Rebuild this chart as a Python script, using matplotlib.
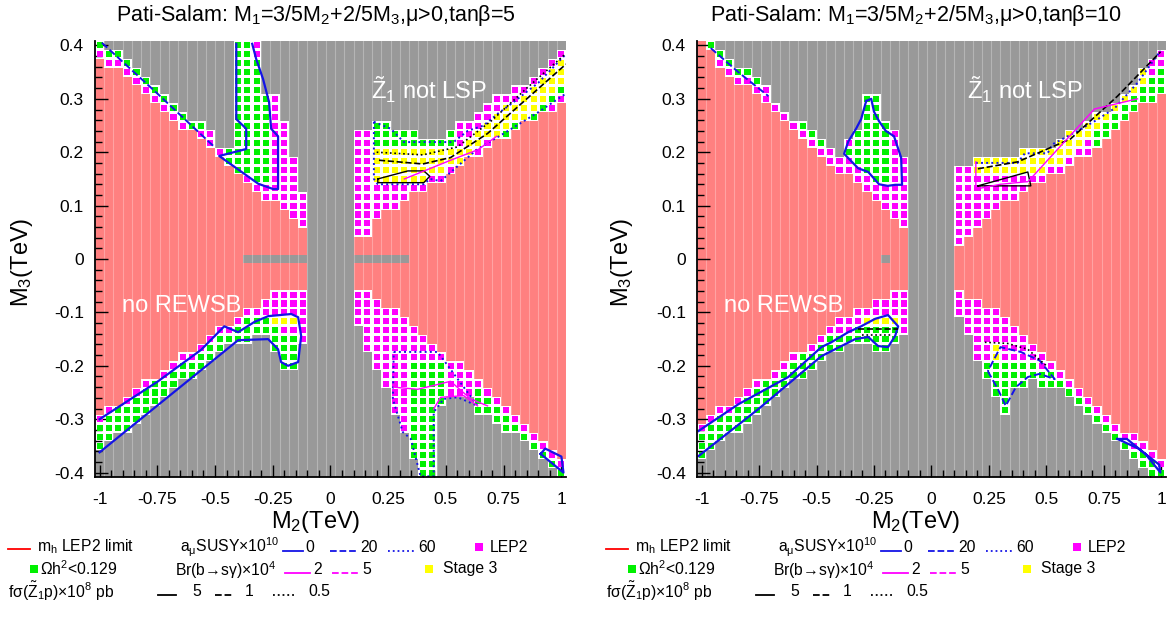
import numpy as np
import matplotlib
matplotlib.use("Agg")
import matplotlib.pyplot as plt
from matplotlib.path import Path
from matplotlib.patches import Rectangle
from matplotlib.collections import PatchCollection
from matplotlib.lines import Line2D
from matplotlib.ticker import FixedLocator, MultipleLocator

plt.rcParams['font.family'] = ['Liberation Sans', 'DejaVu Sans']
plt.rcParams['mathtext.fontset'] = 'custom'
plt.rcParams['mathtext.rm'] = 'Liberation Sans'
plt.rcParams['mathtext.it'] = 'Liberation Sans'
plt.rcParams['mathtext.sf'] = 'Liberation Sans'

# ---------------- scan grid (M2, M3 in TeV) ----------------
M2_GRID = np.round(np.arange(-1.0, 1.0001, 0.04), 4)
M3_GRID = np.round(np.linspace(-0.4, 0.4, 49), 5)

X_TICKS = [-1, -0.75, -0.5, -0.25, 0, 0.25, 0.5, 0.75, 1]
X_TICK_LABELS = ['-1', '-0.75', '-0.5', '-0.25', '0', '0.25', '0.5', '0.75', '1']
Y_TICKS = [-0.4, -0.3, -0.2, -0.1, 0, 0.1, 0.2, 0.3, 0.4]
Y_TICK_LABELS = ['-0.4', '-0.3', '-0.2', '-0.1', '0', '0.1', '0.2', '0.3', '0.4']

TITLES = ['Pati-Salam: M$_1$=3/5M$_2$+2/5M$_3$,\u03bc>0,tan\u03b2=5',
          'Pati-Salam: M$_1$=3/5M$_2$+2/5M$_3$,\u03bc>0,tan\u03b2=10']

# ---------------- tan(beta)=5 panel regions ----------------
L5_salmon = [
    [(-1.03, 0.392), (-0.1, 0.05), (-0.1, -0.054), (-0.2, -0.054), (-0.31, -0.086),
     (-0.44, -0.117), (-0.56, -0.155), (-1.03, -0.303)],
    [(0.1, 0.04), (0.18, 0.04), (0.18, 0.07), (0.39, 0.125), (0.52, 0.155), (0.66, 0.205),
     (1.03, 0.30), (1.03, -0.38), (0.81, -0.29), (0.665, -0.235), (0.51, -0.18),
     (0.335, -0.12), (0.2, -0.07), (0.1, -0.05)],
]
L5_allowed = [
    [(-1.03, 0.4236), (-0.52, 0.237), (-0.50, 0.215), (-0.42, 0.188), (-0.42, 0.0), (-1.03, 0.2)],
    [(-0.417, 0.412), (-0.322, 0.412), (-0.309, 0.365), (-0.287, 0.319), (-0.257, 0.300),
     (-0.22, 0.300), (-0.22, 0.253), (-0.18, 0.253), (-0.18, 0.187), (-0.14, 0.187),
     (-0.14, 0.127), (-0.10, 0.127), (-0.10, 0.03), (-0.5, 0.11), (-0.5, 0.2), (-0.417, 0.2)],
    [(-1.03, -0.373), (-0.42, -0.152), (-0.27, -0.148), (-0.25, -0.16), (-0.23, -0.205),
     (-0.14, -0.205), (-0.14, -0.16), (-0.10, -0.16), (-0.10, 0.0), (-1.03, -0.1)],
    [(0.10, 0.235), (0.18, 0.235), (0.18, 0.265), (0.24, 0.255), (0.30, 0.24), (0.39, 0.23),
     (0.48, 0.23), (0.53, 0.245), (0.61, 0.268), (0.69, 0.295), (0.87, 0.335), (1.03, 0.395),
     (1.03, 0.1), (0.1, 0.0)],
    [(0.10, -0.12), (0.14, -0.12), (0.14, -0.17), (0.18, -0.17), (0.18, -0.205), (0.22, -0.205),
     (0.22, -0.25), (0.26, -0.25), (0.26, -0.3), (0.30, -0.3), (0.30, -0.33), (0.34, -0.33),
     (0.34, -0.38), (0.38, -0.38), (0.38, -0.42), (0.46, -0.42), (0.46, -0.28), (0.50, -0.28),
     (0.50, -0.265), (0.62, -0.265), (0.62, -0.28), (0.70, -0.295), (1.03, -0.42),
     (1.03, -0.2), (0.1, 0.0)],
]
L5_green = [
    [(-1.03, 0.4236), (-0.52, 0.237), (-0.52, 0.2203), (-1.03, 0.407)],
    [(-0.421, 0.412), (-0.339, 0.412), (-0.322, 0.375), (-0.300, 0.337), (-0.292, 0.300),
     (-0.257, 0.300), (-0.257, 0.131), (-0.322, 0.141), (-0.482, 0.193), (-0.421, 0.206)],
    [(-1.03, -0.378), (-0.42, -0.157), (-0.27, -0.15), (-0.25, -0.165), (-0.23, -0.21),
     (-0.14, -0.21), (-0.14, -0.14), (-0.25, -0.13), (-0.31, -0.103), (-0.44, -0.134),
     (-0.56, -0.172), (-1.03, -0.315)],
    [(0.18, 0.27), (0.53, 0.27), (0.53, 0.205), (0.18, 0.205)],
    [(0.75, 0.22), (1.03, 0.31), (1.03, 0.36), (0.75, 0.27)],
    [(0.34, -0.195), (0.50, -0.195), (0.50, -0.27), (0.46, -0.27), (0.46, -0.42), (0.34, -0.42)],
    [(0.6, -0.225), (0.665, -0.252), (0.81, -0.307), (1.03, -0.397), (1.03, -0.45), (0.6, -0.3)],
]
L5_yellow = [
    [(-0.26, -0.108), (-0.14, -0.108), (-0.14, -0.127), (-0.26, -0.127)],
    [(0.18, 0.205), (0.53, 0.205), (0.62, 0.24), (0.75, 0.28), (0.87, 0.32), (1.03, 0.38),
     (1.03, 0.33), (0.87, 0.275), (0.75, 0.24), (0.62, 0.2), (0.5, 0.165), (0.4, 0.145),
     (0.18, 0.145)],
]
L5_zero_grey = (-0.38, 0.34)

# contour lines tan(beta)=5
L5_amu0_ul_m2 = [-0.408, -0.408, -0.365, -0.365, -0.482, -0.313, -0.248, -0.227, -0.227, -0.257, -0.266, -0.292, -0.322, -0.339]
L5_amu0_ul_m3 = [0.403, 0.262, 0.244, 0.206, 0.193, 0.141, 0.131, 0.131, 0.23, 0.244, 0.294, 0.337, 0.375, 0.403]
L5_amu20_ul_m2 = [-0.99, -0.75, -0.503]
L5_amu20_ul_m3 = [0.405, 0.31, 0.21]
L5_amu0_ll_m2 = [-1.0, -0.75, -0.56, -0.46, -0.4, -0.33, -0.27, -0.17, -0.14, -0.127, -0.14, -0.184,
                 -0.214, -0.227, -0.27, -0.4, -0.6, -0.8, -1.0]
L5_amu0_ll_m3 = [-0.30, -0.23, -0.17, -0.126, -0.137, -0.118, -0.107, -0.103, -0.109, -0.144, -0.193,
                 -0.2, -0.193, -0.169, -0.15, -0.152, -0.222, -0.292, -0.362]
L5_amu60_ur_m2 = [0.188, 0.188, 0.205, 0.404, 0.43, 0.477, 0.551, 0.637, 0.75, 0.9, 1.02]
L5_amu60_ur_m3 = [0.257, 0.15, 0.14, 0.14, 0.15, 0.146, 0.174, 0.206, 0.235, 0.275, 0.31]
L5_amu0_ur_m2 = [0.188, 0.261, 0.318, 0.533, 0.594, 0.663, 0.724, 0.793, 0.9, 1.02]
L5_amu0_ur_m3 = [0.257, 0.244, 0.219, 0.219, 0.24, 0.25, 0.272, 0.294, 0.33, 0.384]
L5_f1_m2 = [0.21, 0.4, 0.52, 0.68, 0.85, 1.02]
L5_f1_m3 = [0.185, 0.178, 0.19, 0.235, 0.3, 0.365]
L5_f05_m2 = [0.2, 0.4, 0.55, 0.7, 0.85, 1.02]
L5_f05_m3 = [0.2, 0.195, 0.21, 0.26, 0.32, 0.385]
L5_f5_m2 = [0.205, 0.335, 0.404, 0.43, 0.404, 0.205, 0.205]
L5_f5_m3 = [0.15, 0.165, 0.165, 0.155, 0.143, 0.143, 0.15]
L5_br2_ur_m2 = [0.32, 0.52, 0.64, 0.72]
L5_br2_ur_m3 = [0.15, 0.185, 0.205, 0.23]
L5_amu60_lr_m2 = [0.274, 0.464, 0.637, 0.551, 0.49, 0.447, 0.447, 0.39, 0.348, 0.313, 0.27, 0.274]
L5_amu60_lr_m3 = [-0.174, -0.174, -0.275, -0.259, -0.262, -0.287, -0.407, -0.407, -0.337, -0.324, -0.262, -0.174]
L5_br2_lr_m2 = [0.274, 0.378, 0.52, 0.607, 0.68]
L5_br2_lr_m3 = [-0.24, -0.244, -0.229, -0.262, -0.275]
L5_br2b_lr_m2 = [0.447, 0.477, 0.577, 0.637]
L5_br2b_lr_m3 = [-0.281, -0.259, -0.256, -0.275]
L5_amu0_lr_m2 = [0.91, 1.009, 1.0, 0.93, 0.91]
L5_amu0_lr_m3 = [-0.365, -0.4, -0.37, -0.355, -0.365]

# ---------------- tan(beta)=10 panel regions ----------------
R10_salmon = [
    [(-1.03, 0.43), (-0.98, 0.41), (-0.94, 0.37), (-0.1, 0.052), (-0.1, -0.058), (-0.15, -0.058),
     (-0.35, -0.1), (-0.6, -0.18), (-1.03, -0.318)],
    [(0.1, 0.03), (0.18, 0.04), (0.2, 0.056), (0.3, 0.1), (0.5, 0.148), (0.75, 0.218), (0.91, 0.29),
     (1.03, 0.31), (1.03, -0.385), (0.996, -0.375), (0.909, -0.343), (0.822, -0.313),
     (0.753, -0.281), (0.666, -0.249), (0.584, -0.215), (0.505, -0.184), (0.419, -0.153),
     (0.345, -0.122), (0.267, -0.09), (0.189, -0.075), (0.1, -0.06)],
]
R10_allowed = [
    [(-1.03, 0.4386), (-0.72, 0.3208), (-0.70, 0.296), (-0.6, 0.258), (-0.58, 0.27),
     (-0.46, 0.222), (-0.42, 0.2), (-0.42, 0.0), (-1.03, 0.2)],
    [(-0.284, 0.30), (-0.232, 0.30), (-0.206, 0.262), (-0.158, 0.244), (-0.145, 0.197),
     (-0.10, 0.19), (-0.10, 0.03), (-0.42, 0.1), (-0.42, 0.2), (-0.406, 0.19),
     (-0.341, 0.244), (-0.293, 0.253)],
    [(-1.03, -0.385), (-0.48, -0.19), (-0.33, -0.158), (-0.27, -0.158), (-0.245, -0.172),
     (-0.2, -0.172), (-0.14, -0.158), (-0.14, -0.135), (-0.10, -0.135), (-0.10, 0.0), (-1.03, -0.1)],
    [(0.1, 0.175), (0.18, 0.175), (0.18, 0.188), (0.375, 0.188), (0.405, 0.205), (0.505, 0.205),
     (0.53, 0.222), (0.636, 0.248), (0.71, 0.266), (0.8, 0.29), (0.9, 0.34), (1.03, 0.41),
     (1.03, 0.2), (0.1, 0.0)],
    [(0.10, -0.11), (0.14, -0.11), (0.14, -0.14), (0.18, -0.14), (0.18, -0.19), (0.22, -0.19),
     (0.22, -0.22), (0.26, -0.22), (0.26, -0.255), (0.30, -0.255), (0.30, -0.29), (0.34, -0.29),
     (0.34, -0.25), (0.38, -0.25), (0.38, -0.235), (0.42, -0.235), (0.42, -0.22), (0.46, -0.22),
     (0.46, -0.235), (0.50, -0.235), (0.585, -0.25), (0.67, -0.285), (0.75, -0.315),
     (0.82, -0.35), (0.91, -0.38), (1.03, -0.43), (1.03, -0.2), (0.1, 0.0)],
]
R10_green = [
    [(-1.03, 0.4386), (-0.72, 0.3208), (-0.72, 0.3038), (-1.03, 0.4216)],
    [(-0.58, 0.2685), (-0.46, 0.2229), (-0.46, 0.2059), (-0.58, 0.2515)],
    [(-0.284, 0.30), (-0.232, 0.30), (-0.206, 0.258), (-0.163, 0.234), (-0.163, 0.185),
     (-0.2, 0.14), (-0.24, 0.135), (-0.319, 0.169), (-0.384, 0.197), (-0.328, 0.242),
     (-0.293, 0.248)],
    [(-1.03, -0.39), (-0.48, -0.19), (-0.33, -0.158), (-0.27, -0.158), (-0.245, -0.172),
     (-0.2, -0.172), (-0.14, -0.158), (-0.14, -0.125), (-0.3, -0.125), (-0.475, -0.152),
     (-1.03, -0.335)],
    [(0.7, 0.2), (1.03, 0.3), (1.03, 0.37), (0.8, 0.275), (0.7, 0.245)],
    [(0.18, -0.195), (0.42, -0.195), (0.5, -0.215), (0.5, -0.3), (0.18, -0.3)],
    [(0.5, -0.2), (0.585, -0.232), (0.67, -0.266), (0.75, -0.298), (0.82, -0.33), (0.91, -0.36),
     (1.03, -0.4), (1.03, -0.45), (0.5, -0.26)],
]
R10_yellow = [
    [(-0.3, -0.108), (-0.14, -0.108), (-0.14, -0.127), (-0.3, -0.127)],
    [(0.18, 0.2), (0.4, 0.22), (0.5, 0.22), (0.65, 0.26), (0.8, 0.3), (0.95, 0.37), (0.95, 0.33),
     (0.8, 0.275), (0.65, 0.205), (0.5, 0.165), (0.4, 0.15), (0.18, 0.15)],
    [(0.26, -0.16), (0.30, -0.16), (0.30, -0.19), (0.26, -0.19)],
]
R10_zero_grey = (-0.22, -0.18)

R10_amu0_ul_m2 = [-0.284, -0.262, -0.25, -0.228, -0.199, -0.163, -0.132, -0.128, -0.158, -0.19, -0.228, -0.275, -0.319, -0.38, -0.362, -0.328, -0.306, -0.284]
R10_amu0_ul_m3 = [0.296, 0.3, 0.276, 0.258, 0.24, 0.23, 0.19, 0.139, 0.139, 0.137, 0.14, 0.163, 0.17, 0.197, 0.22, 0.244, 0.262, 0.296]
R10_amu20_ul_m2 = [-0.96, -0.84, -0.709]
R10_amu20_ul_m3 = [0.395, 0.35, 0.305]
R10_amu0_ll_m2 = [-1.013, -0.84, -0.623, -0.479, -0.436, -0.362, -0.306, -0.245, -0.189, -0.145, -0.158,
                  -0.189, -0.232, -0.275, -0.332, -0.479, -0.75, -1.013]
R10_amu0_ll_m3 = [-0.322, -0.272, -0.221, -0.165, -0.156, -0.137, -0.126, -0.112, -0.105, -0.126, -0.144,
                  -0.165, -0.163, -0.146, -0.15, -0.182, -0.28, -0.369]
R10_f1_ll_m2 = [-0.319, -0.145]
R10_f1_ll_m3 = [-0.131, -0.131]
R10_f05_ll_m2 = [-0.3, -0.17]
R10_f05_ll_m3 = [-0.142, -0.142]
R10_amu20_lr_m2 = [0.245, 0.289, 0.323, 0.367, 0.419, 0.47, 0.536, 0.47, 0.388, 0.3, 0.245]
R10_amu20_lr_m3 = [-0.21, -0.244, -0.275, -0.24, -0.221, -0.215, -0.225, -0.19, -0.174, -0.165, -0.21]
R10_f05_lr_m2 = [0.232, 0.33, 0.419, 0.5]
R10_f05_lr_m3 = [-0.156, -0.158, -0.169, -0.2]
R10_amu0_lr_m2 = [0.809, 0.85, 0.93, 0.996, 0.99, 0.9, 0.809]
R10_amu0_lr_m3 = [-0.337, -0.337, -0.365, -0.4, -0.385, -0.355, -0.337]
R10_amu60_ur_m2 = [0.193, 0.375, 0.406, 0.505, 0.527, 0.636, 0.709, 0.796, 0.896, 0.996]
R10_amu60_ur_m3 = [0.18, 0.18, 0.198, 0.198, 0.215, 0.24, 0.258, 0.282, 0.33, 0.39]
R10_f1_ur_m2 = [0.202, 0.375, 0.605, 0.809, 0.996]
R10_f1_ur_m3 = [0.169, 0.182, 0.225, 0.305, 0.388]
R10_f5_ur_m2 = [0.202, 0.419, 0.432, 0.202]
R10_f5_ur_m3 = [0.137, 0.163, 0.137, 0.137]
R10_br2_ur_m2 = [0.193, 0.193, 0.3, 0.42, 0.709, 0.896]
R10_br2_ur_m3 = [0.182, 0.131, 0.14, 0.145, 0.281, 0.30]

BLUE = '#1414e6'
MAG = '#ff00ff'

L5_lines = [
    (L5_amu0_ul_m2, L5_amu0_ul_m3, BLUE, '-', 1.6),
    (L5_amu20_ul_m2, L5_amu20_ul_m3, BLUE, '--', 1.4),
    (L5_amu0_ll_m2, L5_amu0_ll_m3, BLUE, '-', 1.6),
    (L5_amu60_ur_m2, L5_amu60_ur_m3, BLUE, ':', 1.4),
    (L5_amu0_ur_m2, L5_amu0_ur_m3, BLUE, ':', 1.4),
    (L5_f1_m2, L5_f1_m3, 'black', '--', 1.2),
    (L5_f05_m2, L5_f05_m3, 'black', ':', 1.2),
    (L5_f5_m2, L5_f5_m3, 'black', '-', 1.0),
    (L5_br2_ur_m2, L5_br2_ur_m3, MAG, '-', 1.0),
    (L5_amu60_lr_m2, L5_amu60_lr_m3, BLUE, ':', 1.4),
    (L5_br2_lr_m2, L5_br2_lr_m3, MAG, '-', 1.0),
    (L5_br2b_lr_m2, L5_br2b_lr_m3, MAG, '-', 1.0),
    (L5_amu0_lr_m2, L5_amu0_lr_m3, BLUE, '-', 1.6),
]
R10_lines = [
    (R10_amu0_ul_m2, R10_amu0_ul_m3, BLUE, '-', 1.6),
    (R10_amu20_ul_m2, R10_amu20_ul_m3, BLUE, '--', 1.4),
    (R10_amu0_ll_m2, R10_amu0_ll_m3, BLUE, '-', 1.6),
    (R10_f1_ll_m2, R10_f1_ll_m3, 'black', '--', 1.2),
    (R10_f05_ll_m2, R10_f05_ll_m3, 'black', ':', 1.2),
    (R10_amu20_lr_m2, R10_amu20_lr_m3, BLUE, '--', 1.4),
    (R10_f05_lr_m2, R10_f05_lr_m3, 'black', ':', 1.2),
    (R10_amu0_lr_m2, R10_amu0_lr_m3, BLUE, '-', 1.6),
    (R10_amu60_ur_m2, R10_amu60_ur_m3, BLUE, ':', 1.4),
    (R10_f1_ur_m2, R10_f1_ur_m3, 'black', '--', 1.2),
    (R10_f5_ur_m2, R10_f5_ur_m3, 'black', '-', 1.0),
    (R10_br2_ur_m2, R10_br2_ur_m3, MAG, '-', 1.0),
]

GREY = '#999999'
SALMON = '#ff8080'
GREEN = '#00f000'
YELLOW = '#ffff00'
FILL = {0: GREY, 1: SALMON, 2: 'white', 3: 'white', 4: 'white'}
SQUARE = {2: MAG, 3: GREEN, 4: YELLOW}

DX = 0.04
DY = 0.8 / 48

W, H = 1168.0, 628.0


def classify(allowed, green, yellow, salmon, zero_grey):
    X, Y = np.meshgrid(M2_GRID, M3_GRID)
    pts = np.column_stack([X.ravel(), Y.ravel()])
    cat = np.zeros(len(pts), int)
    for p in allowed:
        cat[Path(p).contains_points(pts)] = 2
    for p in green:
        m = Path(p).contains_points(pts) & (cat >= 2)
        cat[m] = 3
    for p in yellow:
        m = Path(p).contains_points(pts) & (cat >= 2)
        cat[m] = 4
    for p in salmon:
        cat[Path(p).contains_points(pts)] = 1
    zr = (np.abs(pts[:, 1]) < 1e-6) & (pts[:, 0] > zero_grey[0]) & (pts[:, 0] < zero_grey[1])
    cat[zr] = 0
    return pts, cat


def draw_panel(ax, allowed, green, yellow, salmon, zero_grey, lines, texts):
    pts, cat = classify(allowed, green, yellow, salmon, zero_grey)
    bg, bgc, sq, sqc = [], [], [], []
    sw, sh = DX * 0.66, DY * 0.68
    for (x, y), c in zip(pts, cat):
        bg.append(Rectangle((x - DX / 2, y - DY / 2), DX, DY))
        bgc.append(FILL[c])
        if c >= 2:
            sq.append(Rectangle((x - sw / 2, y - sh / 2), sw, sh))
            sqc.append(SQUARE[c])
    ax.add_collection(PatchCollection(bg, facecolors=bgc, edgecolors='none',
                                      antialiased=False, zorder=1))
    edges = np.append(M2_GRID - DX / 2, M2_GRID[-1] + DX / 2)
    ax.vlines(edges, -0.5, 0.5, colors='white', alpha=0.28, lw=0.8, zorder=1.5)
    ax.add_collection(PatchCollection(sq, facecolors=sqc, edgecolors='none', zorder=2))
    for xs, ys, col, ls, lw in lines:
        ax.plot(xs, ys, color=col, ls=ls, lw=lw, zorder=3)
    for (tx, ty, s) in texts:
        ax.text(tx, ty, s, color='white', fontsize=17, ha='center', va='center', zorder=4)

    ax.set_xlim(-1.02, 1.02)
    ax.set_ylim(-0.4083, 0.4083)
    ax.xaxis.set_major_locator(FixedLocator(X_TICKS))
    ax.set_xticklabels(X_TICK_LABELS)
    ax.yaxis.set_major_locator(FixedLocator(Y_TICKS))
    ax.set_yticklabels(Y_TICK_LABELS)
    ax.xaxis.set_minor_locator(MultipleLocator(0.05))
    ax.yaxis.set_minor_locator(MultipleLocator(0.02))
    ax.tick_params(which='both', direction='in', top=False, right=False, width=1.0,
                   labelsize=12.5, zorder=5)
    ax.tick_params(which='major', length=9)
    ax.tick_params(which='minor', length=5)
    ax.tick_params(axis='x', pad=11)
    ax.tick_params(axis='y', pad=8)
    for s in ['top', 'right']:
        ax.spines[s].set_visible(False)
    for s in ['left', 'bottom']:
        ax.spines[s].set_linewidth(1.3)
        ax.spines[s].set_zorder(6)


fig = plt.figure(figsize=(11.68, 6.28), dpi=100)
axL = fig.add_axes([0.0813, 0.2404, 0.4033, 0.6943])
axR = fig.add_axes([0.5967, 0.2404, 0.4016, 0.6943])

draw_panel(axL, L5_allowed, L5_green, L5_yellow, L5_salmon, L5_zero_grey, L5_lines,
           [(-0.646, -0.088, 'no REWSB'), (0.425, 0.318, '$\\tilde{Z}_1$ not LSP')])
draw_panel(axR, R10_allowed, R10_green, R10_yellow, R10_salmon, R10_zero_grey, R10_lines,
           [(-0.644, -0.088, 'no REWSB'), (0.406, 0.318, '$\\tilde{Z}_1$ not LSP')])

for i, x0 in enumerate([0, 600]):
    fig.text((316 + x0) / W, 1 - 15 / H, TITLES[i], fontsize=15.5, ha='center', va='center')
    fig.text((316 + x0) / W, 1 - 522 / H, 'M$_2$(TeV)', fontsize=17, ha='center', va='center')
    fig.text((22 + x0) / W, 1 - 262 / H, 'M$_3$(TeV)', fontsize=17, ha='center', va='center',
             rotation=90)


def legend(x0):
    def T(x, y, s):
        fig.text((x0 + x) / W, 1 - y / H, s, fontsize=11.3, ha='left', va='center')

    def L(x1, x2, y, col, ls, lw=1.3):
        fig.add_artist(Line2D([(x0 + x1) / W, (x0 + x2) / W], [1 - y / H, 1 - y / H],
                              color=col, ls=ls, lw=lw, transform=fig.transFigure))

    def S(x, y, col):
        fig.add_artist(Rectangle(((x0 + x) / W, 1 - (y + 4) / H), 8 / W, 8 / H,
                                 facecolor=col, edgecolor='none', transform=fig.transFigure))
    y1, y2, y3 = 547, 569, 591
    L(8, 30, y1 + 2, 'red', '-')
    T(37, y1, 'm$_h$ LEP2 limit')
    T(180, y1, 'a$_\\mu$SUSY\u00d710$^{10}$')
    L(283, 303, y1 + 4, BLUE, '-')
    T(305, y1, '0')
    L(330, 358, y1 + 4, BLUE, '--')
    T(360, y1, '20')
    L(388, 415, y1 + 4, BLUE, ':')
    T(418, y1, '60')
    S(475, y1, MAG)
    T(490, y1, 'LEP2')
    S(30, y2, GREEN)
    T(40, y2, '\u03a9h$^2$<0.129')
    T(175, y2 + 1, 'Br(b\u2192s\u03b3)\u00d710$^4$')
    L(285, 310, y2 + 4, MAG, '-')
    T(313, y2, '2')
    L(332, 358, y2 + 4, MAG, '--')
    T(362, y2, '5')
    S(425, y2, YELLOW)
    T(443, y2, 'Stage 3')
    T(8, y3, 'f\u03c3($\\tilde{Z}_1$p)\u00d710$^8$ pb')
    L(158, 176, y3 + 4, 'black', '-')
    T(192, y3, '5')
    L(215, 233, y3 + 4, 'black', '--')
    T(245, y3, '1')
    L(273, 295, y3 + 4, 'black', ':')
    T(308, y3, '0.5')


legend(0)
legend(598)

fig.savefig('out.png', dpi=100)
